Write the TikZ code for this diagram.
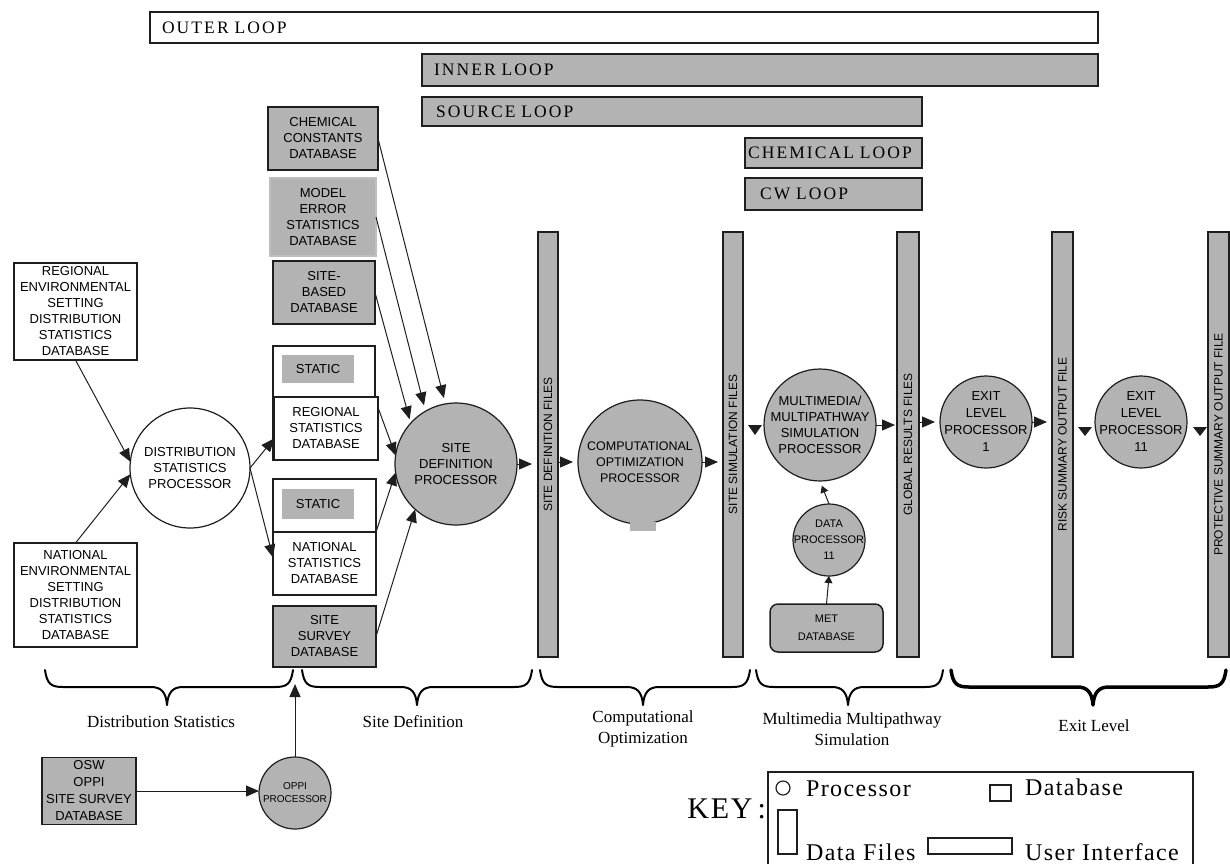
\documentclass[tikz,border=0pt]{standalone}
\usepackage{fontspec}
\usepackage{graphicx}
\setmainfont{Liberation Serif}
\newfontfamily\boxfont{Liberation Sans}
\newfontfamily\loopfont[LetterSpace=12]{Liberation Serif}
\newfontfamily\keyfont[LetterSpace=6]{Liberation Serif}
\usetikzlibrary{arrows.meta}
\definecolor{boxgray}{RGB}{179,179,179}
\definecolor{edge}{RGB}{30,30,30}
\newcommand{\drawbrace}[4][2pt]{%
  \draw[bracepath, line width=#1] (#2,670) .. controls ({#2+2},684) and ({#2+6},687) .. ({#2+18},687) -- ({#3-16},687) .. controls ({#3-6},687) and ({#3-1},692) .. (#3,705) .. controls ({#3+1},692) and ({#3+6},687) .. ({#3+16},687) -- ({#4-18},687) .. controls ({#4-6},687) and ({#4-2},684) .. (#4,670);}
\begin{document}
\begin{tikzpicture}[x=1pt,y=-1pt,
  every node/.style={inner sep=0pt, outer sep=0pt},
  dbbox/.style={draw=edge, line width=1.5pt, fill=boxgray, align=center, font=\boxfont\fontsize{13}{16}\selectfont},
  whitebox/.style={dbbox, fill=white},
  proc/.style={circle, draw=edge, line width=1.2pt, fill=boxgray, inner sep=-15pt, align=center, font=\boxfont\fontsize{13}{16}\selectfont},
  smallproc/.style={proc, font=\boxfont\fontsize{11}{16}\selectfont},
  filebar/.style={draw=edge, line width=1.5pt, fill=boxgray, minimum height=425pt, font=\boxfont\fontsize{12}{14}\selectfont},
  loopbar/.style={draw=edge, line width=2pt, fill=boxgray, anchor=north west, align=left, font=\loopfont\fontsize{17.5}{20}\selectfont},
  conn/.style={draw=edge, line width=1pt, -{Triangle[length=13pt,width=11pt]}},
  sconn/.style={draw=edge, line width=1pt, -{Triangle[length=7pt,width=8pt]}},
  bracepath/.style={draw=black, line cap=round, line join=round},
  lbl/.style={font=\fontsize{17}{21}\selectfont, align=center},
  keytext/.style={font=\keyfont\fontsize{24}{28}\selectfont, anchor=base west},
  keysym/.style={draw=edge, line width=1.2pt},
]
\useasboundingbox (0,0) rectangle (1230,863);

% loop bars
\node[loopbar, fill=white, text width=924pt, inner xsep=12pt, minimum height=31pt] (outer) at (150,12) {OUTER LOOP};
\node[loopbar, text width=652pt, inner xsep=12pt, minimum height=32pt] (inner) at (422,54) {INNER LOOP};
\node[loopbar, text width=472pt, inner xsep=14pt, minimum height=29pt] (source) at (422,97) {SOURCE LOOP};
\node[loopbar, text width=171pt, inner xsep=3pt, minimum height=30pt] (chem) at (745,138) {CHEMICAL LOOP};
\node[loopbar, text width=147pt, inner xsep=15pt, minimum height=32pt] (cw) at (745,178) {CW LOOP};

% left databases
\node[dbbox, minimum width=110pt, minimum height=63pt] (cc) at (323,138.5) {CHEMICAL\\CONSTANTS\\DATABASE};
\node[dbbox, draw=boxgray!85!white, minimum width=106pt, minimum height=78pt] (me) at (323,217) {MODEL\\ERROR\\STATISTICS\\DATABASE};
\node[dbbox, minimum width=102pt, minimum height=63pt] (sb) at (324,292.5) {SITE-\\BASED\\DATABASE};

\node[whitebox, minimum width=102pt, minimum height=114pt] (rgrp) at (324,403) {};
\node[dbbox, draw=none, minimum width=72pt, minimum height=28pt] (st1) at (318,369) {STATIC};
\node[whitebox, line width=2pt, minimum width=104pt, minimum height=63pt] (rsd) at (326,428.5) {REGIONAL\\STATISTICS\\DATABASE};

\node[whitebox, minimum width=103pt, minimum height=116pt] (ngrp) at (324.5,537) {};
\node[dbbox, draw=none, minimum width=72pt, minimum height=30pt] (st2) at (318,504) {STATIC};
\node[whitebox, minimum width=103pt, minimum height=63pt] (nsd) at (324.5,563.5) {NATIONAL\\STATISTICS\\DATABASE};

\node[dbbox, minimum width=103pt, minimum height=61pt] (ssd) at (324.5,636.5) {SITE\\SURVEY\\DATABASE};

\node[whitebox, minimum width=123pt, minimum height=97pt] (renv) at (75.5,311.5) {REGIONAL\\ENVIRONMENTAL\\SETTING\\DISTRIBUTION\\STATISTICS\\DATABASE};
\node[whitebox, minimum width=123pt, minimum height=104pt] (nenv) at (75.5,595) {NATIONAL\\ENVIRONMENTAL\\SETTING\\DISTRIBUTION\\STATISTICS\\DATABASE};
\node[dbbox, font=\boxfont\fontsize{13}{17}\selectfont, minimum width=94pt, minimum height=67pt] (osw) at (89,791) {OSW\\OPPI\\SITE SURVEY\\DATABASE};

% processors
\node[proc, fill=white, minimum size=120pt] (dsp) at (190,468) {DISTRIBUTION\\STATISTICS\\PROCESSOR};
\node[proc, minimum size=122pt] (sdp) at (456,464) {SITE\\DEFINITION\\PROCESSOR};
\node[proc, minimum size=124pt, font=\boxfont\fontsize{12.5}{16}\selectfont] (cop) at (640,462) {COMPUTATIONAL\\OPTIMIZATION\\PROCESSOR};
\fill[boxgray] (630,522) rectangle (656,531);
\node[proc, minimum size=112pt] (mm) at (820,425) {MULTIMEDIA/\\MULTIPATHWAY\\SIMULATION\\PROCESSOR};
\node[smallproc, minimum size=72pt] (dp) at (829,540) {DATA\\PROCESSOR\\11};
\node[dbbox, rounded corners=8pt, font=\boxfont\fontsize{11}{18}\selectfont, minimum width=113pt, minimum height=48pt] (met) at (826.5,628) {MET\\DATABASE};
\node[proc, minimum size=92pt, font=\boxfont\fontsize{13}{17}\selectfont] (ex1) at (986,422) {EXIT\\LEVEL\\PROCESSOR\\1};
\node[proc, minimum size=92pt, font=\boxfont\fontsize{13}{17}\selectfont] (ex2) at (1141,422) {EXIT\\LEVEL\\PROCESSOR\\11};
\node[smallproc, font=\boxfont\fontsize{10}{13}\selectfont, minimum size=72pt] (oppi) at (295,793) {OPPI\\PROCESSOR};

% file bars
\node[filebar, minimum width=20pt] (sdf) at (548,444.5) {\rotatebox{90}{SITE DEFINITION FILES}};
\node[filebar, minimum width=20pt] (ssf) at (733,444.5) {\rotatebox{90}{SITE SIMULATION FILES}};
\node[filebar, minimum width=22pt] (grf) at (908,444.5) {\rotatebox{90}{GLOBAL RESULTS FILES}};
\node[filebar, minimum width=21pt] (rsf) at (1062.5,444.5) {\rotatebox{90}{RISK SUMMARY OUTPUT FILE}};
\node[filebar, minimum width=21pt] (psf) at (1218.5,444.5) {\rotatebox{90}{PROTECTIVE SUMMARY OUTPUT FILE}};

% connectors
\draw[conn] (renv.south) -- (dsp.174);
\draw[conn] (nenv.north) -- (dsp.186);
\draw[conn] (dsp.east) -- ([yshift=-10pt]rsd.west);
\draw[conn] (dsp.east) -- ([yshift=6pt]nsd.west);
\draw[conn, shorten >=6pt] (cc.east) -- (sdp.100);
\draw[conn, shorten >=6pt] (me.east) -- (sdp.120);
\draw[conn, shorten >=4pt] (sb.east) -- (sdp.138);
\draw[conn] ([yshift=21pt]rsd.east) -- (sdp.172);
\draw[conn] (nsd.north east) -- (sdp.188);
\draw[conn] (ssd.east) -- (sdp.228);
\draw[conn, shorten >=6pt] (sdp.east) -- (sdp.east -| sdf.west);
\draw[conn, shorten >=5pt] (sdf.east |- cop.west) -- (cop.west);
\draw[conn, shorten >=5pt] (cop.east) -- (cop.east -| ssf.west);
\draw[conn, shorten >=2pt] (mm.east) -- (mm.east -| grf.west);
\draw[conn, shorten >=5pt] (grf.east |- ex1.west) -- (ex1.west);
\draw[conn, shorten >=5pt] (ex1.east) -- (ex1.east -| rsf.west);
\draw[sconn, shorten >=5pt] (dp.north) -- (mm.south);
\draw[sconn] (met.north) -- (dp.south);
\draw[conn] (osw.east) -- (osw.east -| oppi.west);
\coordinate (oppiend) at (295,684);
\draw[conn] (oppi.north) -- (oppiend);

% detached down-pointing arrowheads
\fill[edge] (748,425) -- (762,425) -- (755,435) -- cycle;
\fill[edge] (1078,427) -- (1092,427) -- (1085,436) -- cycle;
\fill[edge] (1193,427) -- (1207,427) -- (1200,436) -- cycle;

% braces and stage labels
\drawbrace{45}{167}{293}
\drawbrace{302}{417}{532}
\drawbrace{540}{643}{750}
\drawbrace{756}{848}{943}
\drawbrace[3.5pt]{951}{1093}{1226}
\node[lbl] (ldist) at (161,722) {Distribution Statistics};
\node[lbl] (lsite) at (413,722) {Site Definition};
\node[lbl] (lcomp) at (643,729) {Computational\\Optimization};
\node[lbl] (lmm) at (852,729) {Multimedia Multipathway\\Simulation};
\node[lbl] (lexit) at (1094,726) {Exit Level};

% key
\draw[edge, line width=1.5pt] (768,866) -- (768,772) -- (1193,772) -- (1193,866);
\node[font=\keyfont\fontsize{30}{34}\selectfont, anchor=base east] (key) at (766,818) {KEY\,:};
\node[keysym, circle, minimum size=14pt] (kproc) at (783,788) {};
\node[keytext] (kproct) at (806,796) {Processor};
\node[keysym, minimum width=21pt, minimum height=16pt] (kdb) at (1000.5,793) {};
\node[keytext] (kdbt) at (1025,795) {Database};
\node[keysym, minimum width=19pt, minimum height=44pt] (kdf) at (787.5,832) {};
\node[keytext] (kdft) at (806,860) {Data Files};
\node[keysym, minimum width=84pt, minimum height=16pt] (kui) at (970,846) {};
\node[keytext] (kuit) at (1025,860) {User Interface};
\end{tikzpicture}
\end{document}
